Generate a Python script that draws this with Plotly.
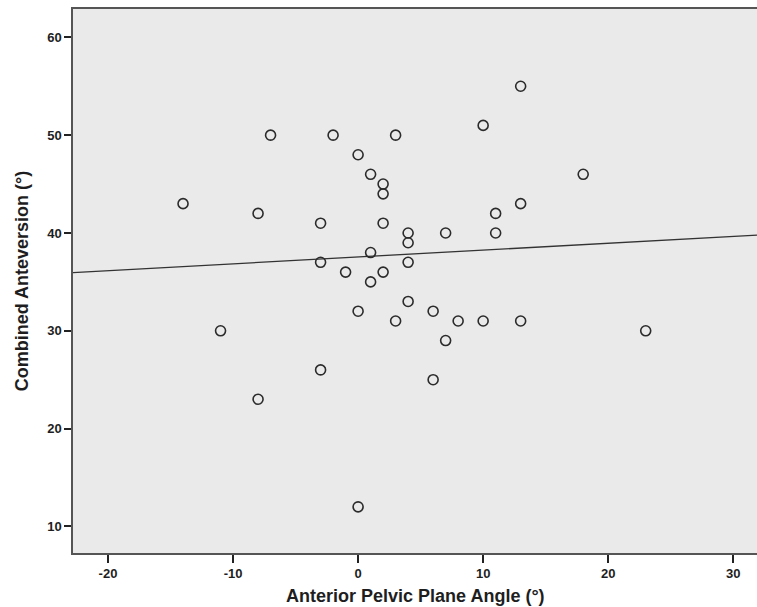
import numpy as np
import plotly.graph_objects as go

# Anterior Pelvic Plane Angle (deg)
app_angle = [-14, -11, -8, -8, -7, -3, -3, -3, -2, -1,
             0, 0, 0, 1, 1, 1, 2, 2, 2, 2,
             3, 3, 4, 4, 4, 4, 6, 6, 7, 7,
             8, 10, 10, 11, 11, 13, 13, 13, 18, 23]
# Combined Anteversion (deg)
combined_av = [43, 30, 42, 23, 50, 41, 37, 26, 50, 36,
               48, 32, 12, 46, 38, 35, 45, 44, 41, 36,
               50, 31, 40, 39, 37, 33, 32, 25, 40, 29,
               31, 51, 31, 42, 40, 55, 43, 31, 46, 30]

x_ticks = [-20, -10, 0, 10, 20, 30]
y_ticks = [10, 20, 30, 40, 50, 60]
x_range = [-22.8, 31.9]
y_range = [7.28, 62.9]

slope, intercept = np.polyfit(app_angle, combined_av, 1)
line_x = np.array(x_range)
line_y = intercept + slope * line_x

fig = go.Figure()
fig.add_trace(go.Scatter(
    x=line_x, y=line_y, mode="lines",
    line=dict(color="#333333", width=1.3),
    hoverinfo="skip", showlegend=False))
fig.add_trace(go.Scatter(
    x=app_angle, y=combined_av, mode="markers",
    marker=dict(symbol="circle-open", size=10, color="#2b2b2b",
                line=dict(width=1.6, color="#2b2b2b")),
    showlegend=False))

tick_font = dict(family="Liberation Sans, Arial, sans-serif", size=13, color="#1e1e1e")
title_font = dict(family="Liberation Sans, Arial, sans-serif", size=18, color="#1e1e1e")

H, T, B = 607, 9, 54
plot_h = H - T - B

fig.update_layout(
    width=757, height=H,
    margin=dict(l=73, r=0, t=T, b=B),
    paper_bgcolor="white",
    plot_bgcolor="#EAEAEA",
    xaxis=dict(
        range=x_range, tickvals=x_ticks,
        ticktext=[f"<b>{v}</b>" for v in x_ticks],
        showgrid=False, zeroline=False,
        showline=True, linecolor="#555555", linewidth=1.5, mirror=True,
        ticks="outside", ticklen=8, tickwidth=1.5, tickcolor="#222222",
        tickfont=tick_font,
    ),
    yaxis=dict(
        range=y_range, tickvals=y_ticks,
        ticktext=[f"<b>{v}</b>" for v in y_ticks],
        showgrid=False, zeroline=False,
        showline=True, linecolor="#555555", linewidth=1.5,
        ticks="outside", ticklen=7, tickwidth=1.5, tickcolor="#222222",
        tickfont=tick_font,
        title=dict(text="<b>Combined Anteversion (°)</b>", font=title_font, standoff=14),
    ),
    annotations=[dict(
        text="<b>Anterior Pelvic Plane Angle (°)</b>",
        xref="paper", yref="paper", x=0.5, y=-(596 - (H - B)) / plot_h,
        xanchor="center", yanchor="middle", showarrow=False,
        font=title_font,
    )],
)

fig.write_html(
    "out.html",
    config={"displayModeBar": False},
    post_script="document.body.style.margin='0';document.body.style.overflow='hidden';",
)
